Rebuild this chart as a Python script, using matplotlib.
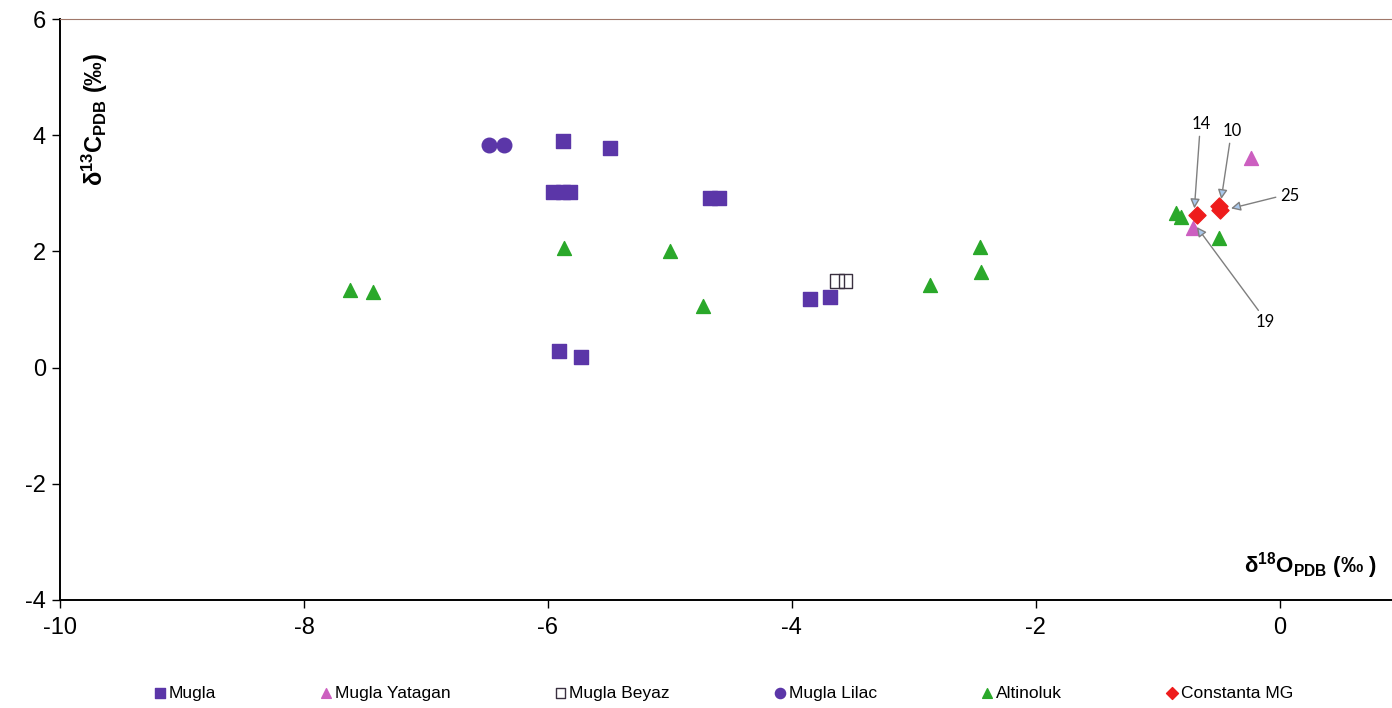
import matplotlib
matplotlib.use("Agg")
import matplotlib.pyplot as plt

plt.rcParams['font.family'] = ['Liberation Sans', 'DejaVu Sans']
plt.rcParams['mathtext.fontset'] = 'custom'
plt.rcParams['mathtext.rm'] = 'Liberation Sans'
plt.rcParams['mathtext.bf'] = 'Liberation Sans:bold'
plt.rcParams['axes.unicode_minus'] = False

# delta 18O (x) and delta 13C (y), per-mil PDB
mugla_x = [-5.88, -5.49, -5.96, -5.88, -5.82, -4.67, -4.60, -3.85, -3.69, -5.91, -5.73]
mugla_y = [3.90, 3.78, 3.02, 3.02, 3.02, 2.92, 2.92, 1.18, 1.22, 0.29, 0.18]

yatagan_x = [-0.24, -0.71]
yatagan_y = [3.61, 2.40]

beyaz_x = [-3.63, -3.56]
beyaz_y = [1.49, 1.49]

lilac_x = [-6.48, -6.36]
lilac_y = [3.83, 3.83]

altinoluk_x = [-7.62, -7.43, -5.87, -5.00, -4.73, -2.87, -2.46, -2.45, -0.85, -0.81, -0.50]
altinoluk_y = [1.34, 1.30, 2.06, 2.01, 1.06, 1.42, 2.08, 1.65, 2.66, 2.59, 2.23]

constanta_x = [-0.68, -0.50, -0.49]
constanta_y = [2.63, 2.78, 2.71]

# sample labels: (label, point, text position)
sample_labels = ['14', '10', '25', '19']
sample_points = [(-0.70, 2.74), (-0.48, 2.90), (-0.40, 2.74), (-0.68, 2.42)]
sample_text_pos = [(-0.64, 4.19), (-0.39, 4.07), (0.08, 2.95), (-0.12, 0.78)]
sample_relpos = [(0.4, 0.0), (0.4, 0.0), (0.0, 0.5), (0.3, 1.0)]

fig = plt.figure(figsize=(13.92, 7.08), dpi=100)
ax = fig.add_axes([60 / 1392, 1 - 600 / 708, 1 - 60 / 1392, (600 - 19) / 708])

purple = '#5b36a8'
ax.scatter(mugla_x, mugla_y, marker='s', s=110, color=purple, label='Mugla', zorder=3)
ax.scatter(yatagan_x, yatagan_y, marker='^', s=100, color='#cc5fc0', label='Mugla Yatagan', zorder=3)
ax.scatter(beyaz_x, beyaz_y, marker='s', s=100, facecolor='none', edgecolor='#3a3040',
           linewidths=1.0, label='Mugla Beyaz', zorder=3)
ax.scatter(lilac_x, lilac_y, marker='o', s=110, color=purple, label='Mugla Lilac', zorder=3)
ax.scatter(altinoluk_x, altinoluk_y, marker='^', s=100, color='#2aa82a', label='Altinoluk', zorder=3)
ax.scatter(constanta_x, constanta_y, marker='D', s=75, color='#ee1c1c', label='Constanta MG', zorder=4)

for lab, pt, tp, rp in zip(sample_labels, sample_points, sample_text_pos, sample_relpos):
    ax.annotate(lab, xy=pt, xytext=tp, ha='center', va='center', fontsize=12,
                family=['Lato', 'DejaVu Sans'],
                arrowprops=dict(arrowstyle='-|>', ec='#7f7f7f', fc='#a9c8ec', lw=1.0,
                                mutation_scale=14, relpos=rp, shrinkA=1, shrinkB=0),
                zorder=5)

ax.set_xlim(-10, 0.92)
ax.set_ylim(-4, 6)
ax.set_xticks([-10, -8, -6, -4, -2, 0])
ax.set_yticks([-4, -2, 0, 2, 4, 6])
ax.tick_params(axis='both', direction='out', length=6, width=1, labelsize=17, pad=4)
ax.tick_params(axis='x', pad=6)

ax.spines['right'].set_visible(False)
ax.spines['top'].set_color('#a0786a')
ax.spines['left'].set_linewidth(1.4)
ax.spines['bottom'].set_linewidth(1.4)

ax.text(0.989, 0.060, r'$\mathbf{\delta^{18}O_{PDB}}$ (‰ )', transform=ax.transAxes,
        ha='right', va='center', fontsize=16, fontweight='bold')
ax.text(0.026, 0.828, r'$\mathbf{\delta^{13}C_{PDB}}$ (‰)', transform=ax.transAxes,
        ha='center', va='center', fontsize=17, fontweight='bold', rotation=90)

fig.legend(loc='center', bbox_to_anchor=(0.519, 0.021), ncol=6, frameon=False,
           fontsize=12.5, handletextpad=0.05, handlelength=0.9, columnspacing=5.9,
           markerscale=0.7, borderaxespad=0)

fig.savefig('out.png', dpi=100)
